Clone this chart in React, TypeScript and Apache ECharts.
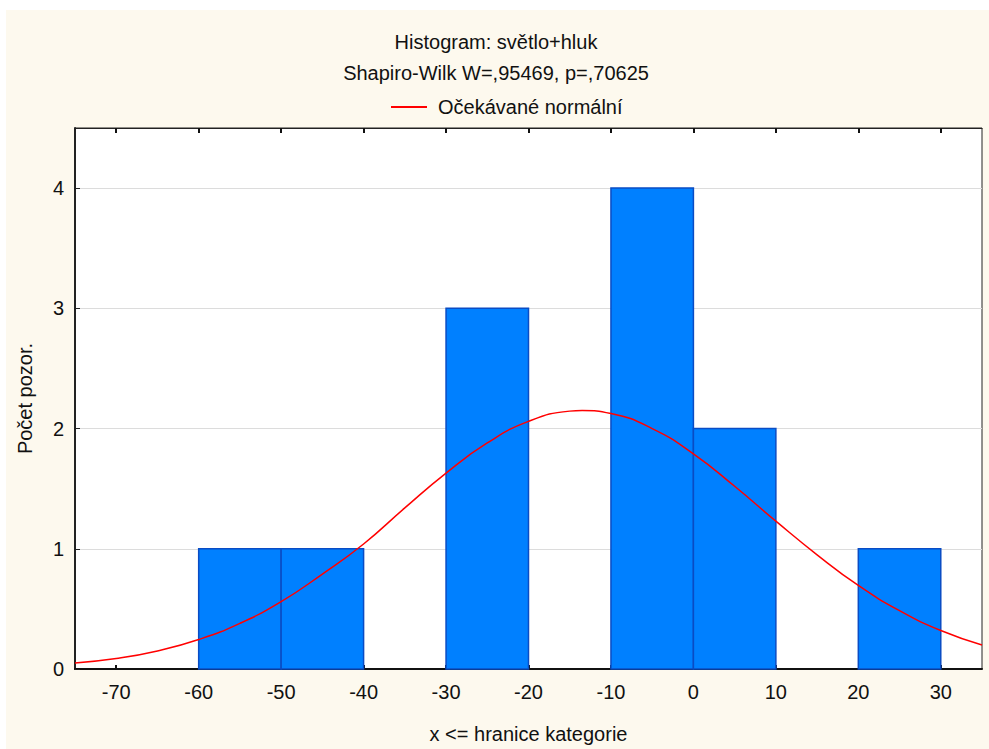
import React, { useEffect, useRef } from "react";
import * as echarts from "echarts";

const titleText = "Histogram: světlo+hluk";
const subtitleText = "Shapiro-Wilk W=,95469, p=,70625";
const legendName = "Očekávané normální";
const xAxisName = "x <= hranice kategorie";
const yAxisName = "Počet pozor.";

const binStarts = [-60, -50, -30, -10, 0, 20];
const binEnds = [-50, -40, -20, 0, 10, 30];
const binCounts = [1, 1, 3, 4, 2, 1];

const curveX = [-75, -70, -65, -60, -55, -50, -45, -40, -35, -30, -25, -20, -15, -13.5, -10, -5, 0, 5, 10, 15, 20, 25, 30, 35];
const curveY = [0.05, 0.087, 0.15, 0.245, 0.38, 0.56, 0.79, 1.04, 1.34, 1.63, 1.88, 2.06, 2.145, 2.15, 2.125, 2.0, 1.79, 1.52, 1.23, 0.95, 0.695, 0.485, 0.32, 0.2];

const xTicks = [-70, -60, -50, -40, -30, -20, -10, 0, 10, 20, 30];
const yTicks = [0, 1, 2, 3, 4];

const FONT = "'Liberation Sans', Arial, sans-serif";
const FS = 20;

export default function App() {
  const ref = useRef<HTMLDivElement>(null);
  useEffect(() => {
    if (!ref.current) return;
    const chart = echarts.init(ref.current, undefined, { renderer: "svg" });
    const barData = binStarts.map((s, i) => [s, binEnds[i], binCounts[i]]);
    const lineData = curveX.map((x, i) => [x, curveY[i]]);
    chart.setOption({
      animation: false,
      backgroundColor: "#ffffff",
      textStyle: { fontFamily: FONT },
      graphic: [
        {
          type: "rect",
          z: -10,
          silent: true,
          shape: { x: 6, y: 10, width: 983, height: 739 },
          style: { fill: "#fdf9ee" },
        },
        {
          type: "text",
          x: 496,
          y: 42,
          style: { text: titleText, font: `${FS}px ${FONT}`, fill: "#111", align: "center", verticalAlign: "middle" },
        },
        {
          type: "text",
          x: 496,
          y: 73,
          style: { text: subtitleText, font: `${FS}px ${FONT}`, fill: "#111", align: "center", verticalAlign: "middle" },
        },
      ],
      legend: {
        top: 92,
        left: 386,
        itemWidth: 36,
        itemHeight: 2,
        icon: "rect",
        textStyle: { fontSize: FS, color: "#111", fontFamily: FONT, padding: [0, 0, 0, 6] },
        data: [{ name: legendName, icon: "rect" }],
      },
      grid: {
        left: 75,
        right: 7,
        top: 128,
        bottom: 77,
        show: true,
        backgroundColor: "#ffffff",
        borderColor: "#222",
        borderWidth: 1,
      },
      xAxis: [
        {
          type: "value",
          min: -75,
          max: 35,
          position: "bottom",
          name: xAxisName,
          nameLocation: "middle",
          nameGap: 55,
          nameTextStyle: { fontSize: FS, color: "#111", fontFamily: FONT },
          axisLine: { show: true, onZero: false, lineStyle: { color: "#111", width: 2 } },
          axisTick: { show: true, inside: true, length: 4, customValues: xTicks, lineStyle: { color: "#111", width: 2 } },
          axisLabel: { show: true, customValues: xTicks, fontSize: FS, color: "#111", margin: 13, fontFamily: FONT },
          splitLine: { show: false },
        },
        {
          type: "value",
          min: -75,
          max: 35,
          position: "top",
          axisLine: { show: true, onZero: false, lineStyle: { color: "#222", width: 1 } },
          axisTick: { show: true, inside: true, length: 5, customValues: xTicks, lineStyle: { color: "#111", width: 2 } },
          axisLabel: { show: false },
          splitLine: { show: false },
        },
      ],
      yAxis: {
        type: "value",
        min: 0,
        max: 4.5,
        interval: 1,
        name: yAxisName,
        nameLocation: "middle",
        nameGap: 40,
        nameTextStyle: { fontSize: FS, color: "#111", fontFamily: FONT },
        axisLine: { show: true, onZero: false, lineStyle: { color: "#222", width: 2 } },
        axisTick: { show: true, inside: true, length: 5, customValues: yTicks, lineStyle: { color: "#222" } },
        axisLabel: { customValues: yTicks, fontSize: FS, color: "#111", margin: 11, fontFamily: FONT },
        splitLine: { show: true, lineStyle: { color: "#dcdcdc", width: 1 } },
      },
      series: [
        {
          type: "custom",
          name: "bars",
          xAxisIndex: 0,
          yAxisIndex: 0,
          z: 2,
          renderItem: (params: any, api: any) => {
            const p0 = api.coord([api.value(0), 0]);
            const p1 = api.coord([api.value(1), api.value(2)]);
            return {
              type: "rect",
              shape: { x: p0[0], y: p1[1], width: p1[0] - p0[0], height: p0[1] - p1[1] },
              style: { fill: "#0080ff", stroke: "#0a4cc4", lineWidth: 1.5 },
            };
          },
          encode: { x: [0, 1], y: 2 },
          data: barData,
        },
        {
          type: "line",
          name: legendName,
          xAxisIndex: 0,
          yAxisIndex: 0,
          z: 5,
          smooth: true,
          showSymbol: false,
          symbol: "none",
          color: "#ff0000",
          lineStyle: { color: "#ff0000", width: 1.5 },
          data: lineData,
        },
      ],
    });
    return () => chart.dispose();
  }, []);
  return (
    <div
      ref={ref}
      style={{ position: "fixed", left: 0, top: 0, width: 989, height: 749 }}
    />
  );
}
